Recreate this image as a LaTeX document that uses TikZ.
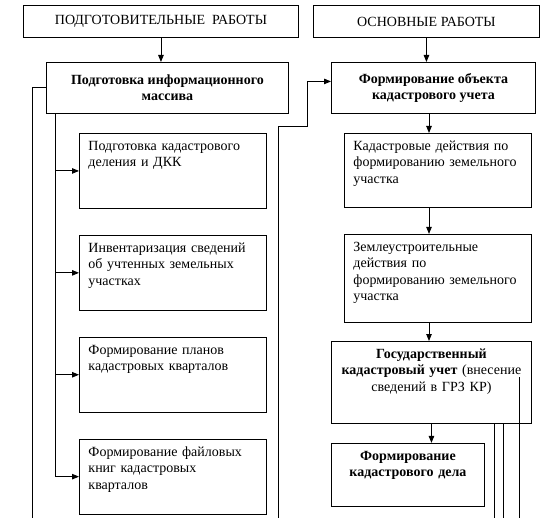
\documentclass[tikz,border=0pt]{standalone}
\usepackage{fontspec}
\setmainfont{Liberation Serif}
\usetikzlibrary{arrows.meta, positioning}
\newcommand{\boxfont}{\fontsize{14}{16.5}\selectfont}

\begin{document}
\begin{tikzpicture}[x=1pt, y=-1pt, >={Triangle[length=7pt, width=5.5pt]},
        headbox/.style={rectangle, draw, line width=0.9pt, anchor=north west, minimum height=32pt, inner sep=0pt, font=\boxfont},
        mainbox/.style={rectangle, draw, line width=0.9pt, anchor=north west, minimum height=51pt, align=center, font=\boxfont\bfseries},
        stepbox/.style={rectangle, draw, line width=0.9pt, anchor=north west, text width=169pt, inner xsep=9pt, inner ysep=0pt, align=left, text height=17pt, font=\boxfont},
        line/.style={line width=0.9pt},
        arrow/.style={->, line width=0.9pt}]

        \useasboundingbox (0,0) rectangle (545,518);

        \node[headbox, minimum width=275pt] (prep) at (23,5) {ПОДГОТОВИТЕЛЬНЫЕ\ \ РАБОТЫ};
        \node[headbox, minimum width=226pt] (main) at (313,5) {ОСНОВНЫЕ РАБОТЫ};
        \node[mainbox, minimum width=242pt] (infmass) at (46,62) {Подготовка информационного\\массива};
        \node[mainbox, minimum width=204pt] (objuchet) at (331,62) {Формирование объекта\\кадастрового учета};

        \node[stepbox, text depth=58pt] (div) at (79,133) {Подготовка кадастрового\\деления и ДКК};
        \node[stepbox, text depth=58pt, below=26pt of div] (inv) {Инвентаризация сведений\\об учтенных земельных\\участках};
        \node[stepbox, text depth=58pt, below=26pt of inv] (plans) {Формирование планов\\кадастровых кварталов};
        \node[stepbox, text depth=58pt, below=26pt of plans] (books) {Формирование файловых\\книг кадастровых\\кварталов};

        \node[stepbox, text depth=57pt] (landact) at (344,133) {Кадастровые действия по\\формированию земельного\\участка};
        \node[stepbox, text depth=71pt, below=26pt of landact] (zemact) {Землеустроительные\\действия по\\формированию земельного\\участка};
        \node[stepbox, text width=182pt, align=center, text depth=65pt] (gosuchet) at (331,341) {\textbf{Государственный}\\\textbf{кадастровый учет} (внесение\\сведений в ГРЗ КР)};
        \node[stepbox, text width=135pt, align=center, font=\boxfont\bfseries, text depth=46pt, below=19pt of gosuchet.south west, anchor=north west] (delo) {Формирование\\кадастрового дела};

        \coordinate (trunk) at (55,0);
        \coordinate (spine) at (429,0);
        \coordinate (leftend) at (32,518);
        \coordinate (midend) at (278,518);
        \coordinate (outa) at (494,518);
        \coordinate (outb) at (503,518);
        \coordinate (outc) at (519,518);

        \draw[arrow] (prep.south) -- (prep.south |- infmass.north);
        \draw[arrow] (main.south) -- (main.south |- objuchet.north);
        \draw[arrow] (spine |- objuchet.south) -- (spine |- landact.north);
        \draw[arrow] (spine |- landact.south) -- (spine |- zemact.north);
        \draw[arrow] (spine |- zemact.south) -- (spine |- gosuchet.north);
        \draw[arrow] (gosuchet.south) -- (gosuchet.south |- delo.north);

        \draw[line] (infmass.west) -| (leftend);
        \draw[line] (trunk |- infmass.south) -- (trunk |- books.west);
        \foreach \n in {div, inv, plans, books}
            \draw[arrow] (trunk |- \n.west) -- (\n.west);
        \draw[arrow] (midend) |- (307,126) |- ([yshift=6.5pt]objuchet.west);

        \draw[line] (outa |- gosuchet.south) -- (outa);
        \draw[line] (outb |- gosuchet.south) -- (outb);
        \draw[line] ([yshift=5pt]outc |- gosuchet.center) -- (outc);
    \end{tikzpicture}
\end{document}
